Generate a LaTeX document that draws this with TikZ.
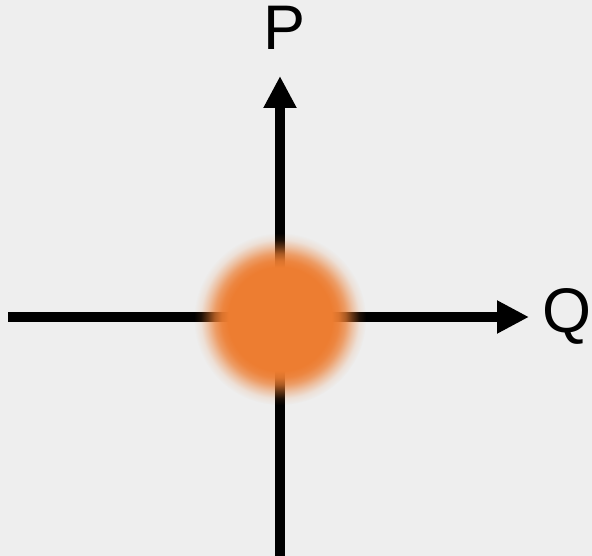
\documentclass[tikz,border=0pt]{standalone}
\usepackage{fontspec}
\setmainfont{Liberation Sans}
\usetikzlibrary{arrows.meta,fadings}
\definecolor{bgcol}{HTML}{EEEEEE}
\definecolor{blobcol}{HTML}{ED7D31}
\pgfdeclareradialshading{blobmask}{\pgfpointorigin}{color(0bp)=(pgftransparent!0); color(15bp)=(pgftransparent!0); color(17bp)=(pgftransparent!8); color(19bp)=(pgftransparent!28); color(21bp)=(pgftransparent!60); color(23bp)=(pgftransparent!88); color(25bp)=(pgftransparent!100); color(50bp)=(pgftransparent!100)}
\pgfdeclarefading{blobfade}{\pgfuseshading{blobmask}}
\tikzset{
  axis/.style={line width=10pt, -{Triangle[length=32pt,width=31pt]}},
  blob/.style={fill=blobcol, path fading=blobfade},
  axislabel/.style={font=\fontsize{63}{63}\selectfont, inner sep=0pt, anchor=base}
}
\begin{document}
\begin{tikzpicture}[x=1pt,y=-1pt]
  \fill[bgcol] (0,0) rectangle (592,556);
  \useasboundingbox (0,0) rectangle (592,556);
  \coordinate (origin) at (280,319);
  \coordinate (west) at (8,317);
  \coordinate (south) at (280,556);
  \coordinate (ptip) at (280,76);
  \coordinate (qtip) at (529,317);
  \draw[axis] (south) -- (ptip);
  \draw[axis] (west) -- (qtip);
  \fill[blob] (origin) circle (86);
  \node[axislabel] (plabel) at (285,50) {P};
  \node[axislabel] (qlabel) at (567,332) {Q};
\end{tikzpicture}
\end{document}
